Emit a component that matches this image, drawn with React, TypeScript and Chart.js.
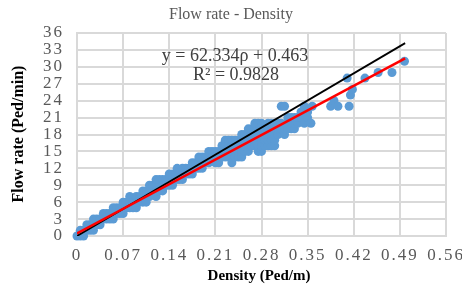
import { useEffect, useRef } from "react";
import { Chart, registerables } from "chart.js";

Chart.register(...registerables);

const chartTitle = "Flow rate - Density";
const xTitle = "Density (Ped/m)";
const yTitle = "Flow rate (Ped/min)";
const equationLine1 = "y = 62.334ρ + 0.463";
const equationLine2 = "R² = 0.9828";

const xTicks = [0, 0.07, 0.14, 0.21, 0.28, 0.35, 0.42, 0.49, 0.56];
const yTicks = [0, 3, 6, 9, 12, 15, 18, 21, 24, 27, 30, 33, 36];

const densities = [
  0, 0.005, 0.005, 0.01, 0.01, 0.015, 0.015, 0.02, 0.02, 0.025, 0.025, 0.025,
  0.03, 0.03, 0.035, 0.035, 0.04, 0.04, 0.045, 0.045, 0.05, 0.05, 0.055, 0.055,
  0.055, 0.06, 0.06, 0.065, 0.065, 0.07, 0.07, 0.07, 0.075, 0.075, 0.08, 0.08,
  0.08, 0.085, 0.085, 0.09, 0.09, 0.09, 0.095, 0.095, 0.1, 0.1, 0.1, 0.105,
  0.105, 0.105, 0.11, 0.11, 0.11, 0.115, 0.115, 0.12, 0.12, 0.12, 0.12, 0.125,
  0.125, 0.125, 0.13, 0.13, 0.13, 0.135, 0.135, 0.14, 0.14, 0.14, 0.145, 0.145,
  0.145, 0.15, 0.15, 0.152, 0.155, 0.155, 0.16, 0.16, 0.16, 0.165, 0.165, 0.17,
  0.17, 0.175, 0.175, 0.175, 0.18, 0.18, 0.185, 0.185, 0.185, 0.19, 0.19, 0.19,
  0.195, 0.195, 0.2, 0.2, 0.2, 0.205, 0.205, 0.21, 0.21, 0.21, 0.215, 0.215,
  0.215, 0.22, 0.22, 0.22, 0.225, 0.225, 0.225, 0.225, 0.23, 0.23, 0.23, 0.23,
  0.235, 0.235, 0.235, 0.235, 0.24, 0.24, 0.24, 0.245, 0.245, 0.245, 0.245, 0.25,
  0.25, 0.25, 0.25, 0.25, 0.255, 0.255, 0.255, 0.255, 0.26, 0.26, 0.26, 0.26,
  0.26, 0.265, 0.265, 0.265, 0.265, 0.27, 0.27, 0.27, 0.27, 0.27, 0.275, 0.275,
  0.275, 0.275, 0.28, 0.28, 0.28, 0.28, 0.28, 0.28, 0.285, 0.285, 0.285, 0.285,
  0.29, 0.29, 0.29, 0.29, 0.29, 0.295, 0.295, 0.295, 0.3, 0.3, 0.3, 0.3,
  0.3, 0.305, 0.305, 0.305, 0.31, 0.31, 0.31, 0.315, 0.315, 0.315, 0.32, 0.32,
  0.32, 0.325, 0.325, 0.33, 0.33, 0.33, 0.335, 0.335, 0.34, 0.34, 0.345, 0.345,
  0.35, 0.35, 0.355, 0.357, 0.385, 0.39, 0.396, 0.413, 0.415, 0.418, 0.41, 0.437,
  0.457, 0.478, 0.497,
];

const flows = [
  0, 0, 1, 0, 1, 1, 2, 1, 2, 1, 2, 3,
  2, 3, 2, 3, 3, 4, 3, 4, 3, 4, 3, 4,
  5, 4, 5, 4, 5, 4, 5, 6, 5, 6, 5, 6,
  7, 5, 6, 5, 6, 7, 6, 7, 6, 7, 8, 6,
  7, 8, 7, 8, 9, 8, 9, 7, 8, 9, 10, 8,
  9, 10, 8, 9, 10, 9, 10, 9, 10, 11, 9, 10,
  11, 10, 11, 12, 10, 11, 10, 11, 12, 11, 12, 11,
  12, 11, 12, 13, 12, 13, 12, 13, 14, 12, 13, 14,
  13, 14, 13, 14, 15, 14, 15, 13, 14, 15, 13, 14,
  15, 14, 15, 16, 14, 15, 16, 17, 14, 15, 16, 17,
  13, 15, 16, 17, 14, 16, 17, 14, 15, 16, 17, 14,
  15, 16, 17, 18, 15, 16, 17, 18, 15, 16, 17, 18,
  19, 16, 17, 18, 19, 16, 17, 18, 19, 20, 15, 16,
  18, 20, 15, 16, 17, 18, 19, 20, 16, 17, 18, 19,
  16, 17, 18, 19, 20, 16, 17, 20, 16, 17, 18, 19,
  20, 18, 19, 20, 19, 20, 23, 18, 19, 23, 19, 20,
  21, 19, 21, 19, 20, 21, 20, 21, 21, 22, 20, 23,
  21, 22, 20, 23, 23, 24, 23, 23, 25, 26, 28, 28,
  29, 29, 31,
];

const trendX = [0, 0.498];
const trendY = [0.463, 31.5];
const refX = [0, 0.498];
const refY = [0, 34.2];

const SERIF = '"Liberation Serif", "Times New Roman", serif';

const textPlugin = {
  id: "customTexts",
  beforeDraw(chart: any) {
    chart.ctx.letterSpacing = "2px";
  },
  afterDraw(chart: any) {
    const ctx = chart.ctx as CanvasRenderingContext2D;
    ctx.save();
    ctx.letterSpacing = "0px";
    ctx.textAlign = "center";
    ctx.textBaseline = "middle";

    ctx.fillStyle = "#595959";
    ctx.font = `16px ${SERIF}`;
    ctx.fillText(chartTitle, 231, 15);

    ctx.fillStyle = "#404040";
    ctx.font = `18px ${SERIF}`;
    ctx.fillText(equationLine1, 235, 56);
    ctx.fillText(equationLine2, 236, 75);

    ctx.fillStyle = "#000000";
    ctx.font = `bold 15px ${SERIF}`;
    ctx.fillText(xTitle, 259, 276);

    ctx.save();
    ctx.translate(19, 134);
    ctx.rotate(-Math.PI / 2);
    ctx.font = `bold 16px ${SERIF}`;
    ctx.fillText(yTitle, 0, 0);
    ctx.restore();

    ctx.restore();
  },
  afterRender(chart: any) {
    chart.ctx.letterSpacing = "0px";
  },
};

export default function App() {
  const ref = useRef<HTMLCanvasElement | null>(null);

  useEffect(() => {
    document.body.style.margin = "0";
    const canvas = ref.current;
    if (!canvas) return;

    const points = densities.map((d, i) => ({ x: d, y: flows[i] }));
    const trend = trendX.map((x, i) => ({ x, y: trendY[i] }));
    const refLine = refX.map((x, i) => ({ x, y: refY[i] }));

    const tickFont = { family: SERIF, size: 17 };
    const gridColor = "#d9d9d9";

    const chart = new Chart(canvas, {
      type: "scatter",
      data: {
        datasets: [
          {
            data: trend,
            showLine: true,
            borderColor: "#ff0000",
            borderWidth: 2.5,
            pointRadius: 0,
            order: 0,
          },
          {
            data: refLine,
            showLine: true,
            borderColor: "#000000",
            borderWidth: 1.8,
            pointRadius: 0,
            order: 1,
          },
          {
            data: points,
            backgroundColor: "#5b9bd5",
            borderWidth: 0,
            pointRadius: 4.5,
            clip: false,
            order: 2,
          },
        ],
      } as any,
      options: {
        responsive: false,
        animation: false,
        events: [],
        layout: { padding: { left: 0, right: 16, top: 33, bottom: 0 } },
        plugins: {
          legend: { display: false },
          tooltip: { enabled: false },
          title: { display: false },
        },
        scales: {
          x: {
            type: "linear",
            min: 0,
            max: 0.56,
            afterBuildTicks: (scale: any) => {
              scale.ticks = xTicks.map((v) => ({ value: v }));
            },
            afterFit: (scale: any) => {
              scale.height = 52;
              scale.paddingLeft = 0;
              scale.paddingRight = 0;
            },
            ticks: {
              font: tickFont,
              color: "#595959",
              padding: 9,
              maxRotation: 0,
              autoSkip: false,
              callback: (v: any) => (v === 0 ? "0" : Number(v).toFixed(2)),
            },
            grid: { color: gridColor, lineWidth: 2, drawTicks: false },
            border: { color: gridColor, width: 2 },
          },
          y: {
            type: "linear",
            min: 0,
            max: 36,
            afterBuildTicks: (scale: any) => {
              scale.ticks = yTicks.map((v) => ({ value: v }));
            },
            afterFit: (scale: any) => {
              scale.width = 77;
              scale.paddingTop = 0;
              scale.paddingBottom = 0;
            },
            ticks: {
              font: tickFont,
              color: "#595959",
              padding: 13,
              autoSkip: false,
              callback: (v: any) => String(v),
            },
            grid: { color: gridColor, lineWidth: 2, drawTicks: false },
            border: { color: gridColor, width: 2 },
          },
        },
      } as any,
      plugins: [textPlugin],
    });

    return () => chart.destroy();
  }, []);

  return (
    <div style={{ width: 462, height: 288 }}>
      <canvas ref={ref} width={462} height={288} style={{ display: "block" }} />
    </div>
  );
}
